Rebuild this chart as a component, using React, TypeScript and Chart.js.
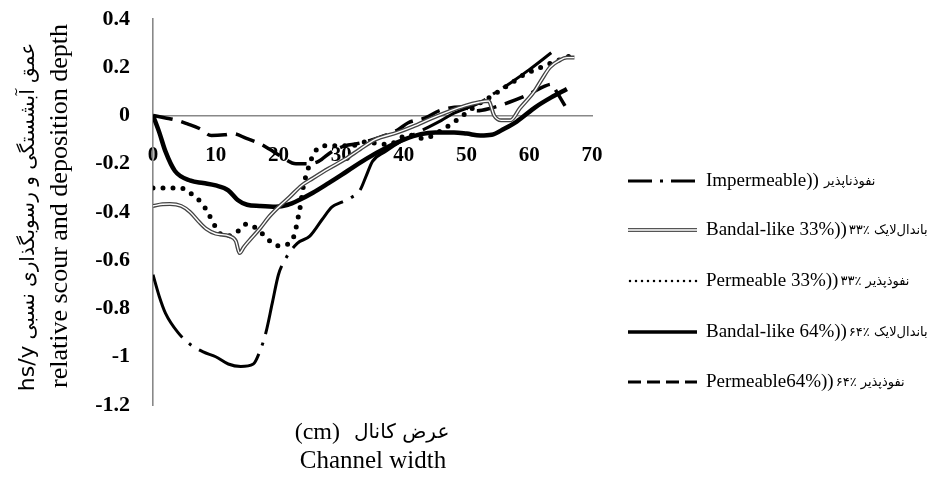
import React, { useEffect, useRef } from "react";
import { Chart, registerables } from "chart.js";
Chart.register(...registerables);

// ---- axis ticks ----
const xTicks = [0, 10, 20, 30, 40, 50, 60, 70];
const yTicks = [0.4, 0.2, 0, -0.2, -0.4, -0.6, -0.8, -1, -1.2];

// ---- series: Impermeable ----
const impX = [0, 1, 2, 4, 6, 8, 10, 12, 14, 16, 17, 18, 19, 20, 21, 23, 25, 27, 28.5, 30, 31.6, 33, 34, 35, 37, 40, 43, 46, 48, 50, 52.2, 54, 57, 60, 63.5];
const impY = [-0.66, -0.75, -0.82, -0.9, -0.95, -0.98, -1.0, -1.03, -1.04, -1.03, -0.98, -0.9, -0.78, -0.66, -0.6, -0.53, -0.5, -0.43, -0.38, -0.36, -0.34, -0.31, -0.25, -0.19, -0.15, -0.1, -0.06, -0.02, 0.01, 0.03, 0.054, 0.085, 0.135, 0.19, 0.26];

// ---- series: Bandal-like 33% ----
const b33X = [0, 1.5, 2.7, 4.5, 5.9, 7.3, 8.5, 10, 12.2, 13.2, 13.8, 14.5, 15.3, 17, 18.5, 20, 21.7, 23.7, 25.5, 28, 30.7, 33, 35.4, 39, 41.5, 44.3, 47, 49.7, 52, 53.5, 54.4, 55.5, 57, 58.5, 60.8, 62, 63.3, 64.9, 66, 67.2];
const b33Y = [-0.375, -0.368, -0.367, -0.375, -0.4, -0.44, -0.47, -0.49, -0.5, -0.52, -0.57, -0.545, -0.52, -0.47, -0.42, -0.38, -0.34, -0.29, -0.26, -0.22, -0.18, -0.14, -0.1, -0.07, -0.045, -0.013, 0.015, 0.04, 0.055, 0.06, 0.0, -0.02, -0.02, 0.03, 0.1, 0.15, 0.2, 0.23, 0.24, 0.24];

// ---- series: Permeable 33% ----
const p33X = [0, 1.9, 3.8, 5.5, 6.3, 7.7, 8.7, 9.7, 10.7, 11.5, 13.1, 14.9, 16.6, 18.2, 19.8, 21.7, 22.6, 23, 23.4, 24, 24.4, 25.6, 27.2, 29, 31.2, 32.8, 33.8, 37.5, 40.7, 43, 46.7, 49.8, 52, 54, 55.7, 57.5, 59.2, 61, 62.8, 64.7, 66.3];
const p33Y = [-0.3, -0.3, -0.3, -0.31, -0.33, -0.36, -0.4, -0.45, -0.49, -0.5, -0.49, -0.45, -0.47, -0.51, -0.54, -0.53, -0.49, -0.44, -0.39, -0.29, -0.25, -0.16, -0.125, -0.125, -0.125, -0.12, -0.11, -0.12, -0.08, -0.095, -0.05, 0.008, 0.05, 0.08, 0.11, 0.14, 0.17, 0.19, 0.21, 0.23, 0.245];

// ---- series: Bandal-like 64% ----
const b64X = [0, 1, 2, 3.5, 6, 8, 10, 12, 13.5, 15, 17, 19.6, 21.5, 23.3, 25.5, 28, 31, 34, 37.5, 40, 42.7, 45, 48, 50, 52.2, 54, 56, 58, 61, 63.5, 66];
const b64Y = [0, -0.07, -0.15, -0.23, -0.27, -0.28, -0.29, -0.31, -0.35, -0.37, -0.375, -0.378, -0.37, -0.35, -0.32, -0.28, -0.23, -0.18, -0.13, -0.1, -0.077, -0.07, -0.07, -0.075, -0.083, -0.08, -0.055, -0.025, 0.035, 0.075, 0.11];

// ---- series: Permeable 64% ----
const p64X = [0, 2, 3.8, 5.5, 7.4, 9.3, 11.4, 12.7, 14.9, 17, 18.6, 20.2, 22.8, 24.8, 26.4, 28.5, 30.7, 32.5, 35, 39, 40.7, 43.4, 45.7, 49, 51.7, 53.8, 56.8, 59.7, 62.3, 63.6, 64.2, 65.7];
const p64Y = [0, -0.01, -0.02, -0.035, -0.054, -0.083, -0.08, -0.075, -0.095, -0.116, -0.14, -0.166, -0.2, -0.2, -0.19, -0.15, -0.125, -0.117, -0.1, -0.06, -0.03, -0.01, 0.02, 0.035, 0.02, 0.03, 0.055, 0.085, 0.12, 0.13, 0.105, 0.04];

// ---- legend texts ----
const legendEnglish = ["Impermeable))", "Bandal-like 33%))", "Permeable 33%))", "Bandal-like 64%))", "Permeable64%))"];
const legendPersian = ["نفوذناپذیر", "باندال‌لایک ٪۳۳", "نفوذپذیر ٪۳۳", "باندال‌لایک ٪۶۴", "نفوذپذیر ٪۶۴"];
const yTitleLine1Latin = "hs/y";
const yTitleLine1Persian = "عمق آبشستگی و رسوبگذاری نسبی";
const yTitleLine2 = "relative scour and deposition depth";
const xTitleLine1Latin = "(cm)";
const xTitleLine1Persian = "عرض کانال";
const xTitleLine2 = "Channel width";

const pts = (xs: number[], ys: number[]) => xs.map((x, i) => ({ x, y: ys[i] }));

const SERIF = "'Liberation Serif', 'Times New Roman', serif";
const ARABIC = "'DejaVu Sans', sans-serif";

const overlayPlugin = {
  id: "overlay",
  afterDraw(chart: any) {
    const ctx: CanvasRenderingContext2D = chart.ctx;
    ctx.save();
    ctx.fillStyle = "#000";

    // ---------- legend ----------
    const rowsY = [181, 230, 281, 332, 382];
    const x0 = 628, x1 = 697, tx = 706;
    rowsY.forEach((y, i) => {
      ctx.save();
      ctx.strokeStyle = "#000";
      ctx.lineCap = "butt";
      if (i === 0) {
        ctx.lineWidth = 3;
        ctx.setLineDash([24, 8, 3, 8]);
      } else if (i === 1) {
        ctx.lineWidth = 4;
        ctx.strokeStyle = "#555";
        ctx.setLineDash([]);
      } else if (i === 2) {
        ctx.lineWidth = 2.5;
        ctx.lineCap = "round";
        ctx.setLineDash([0, 6]);
      } else if (i === 3) {
        ctx.lineWidth = 3.5;
        ctx.setLineDash([]);
      } else {
        ctx.lineWidth = 3;
        ctx.setLineDash([13, 6]);
      }
      ctx.beginPath();
      ctx.moveTo(i === 2 ? x0 + 2 : x0, y);
      ctx.lineTo(x1, y);
      ctx.stroke();
      if (i === 1) {
        ctx.strokeStyle = "#fff";
        ctx.lineWidth = 1.6;
        ctx.beginPath();
        ctx.moveTo(x0, y);
        ctx.lineTo(x1, y);
        ctx.stroke();
      }
      ctx.restore();

      ctx.font = `19px ${SERIF}`;
      ctx.textBaseline = "middle";
      ctx.textAlign = "left";
      ctx.direction = "ltr";
      ctx.fillText(legendEnglish[i], tx, y);
      const w = ctx.measureText(legendEnglish[i]).width;
      ctx.font = `13px ${ARABIC}`;
      ctx.direction = "rtl";
      ctx.textAlign = "left";
      ctx.fillText(legendPersian[i], tx + w + (i === 0 ? 5 : 2), y + 1);
      ctx.direction = "ltr";
    });

    // ---------- y title ----------
    ctx.save();
    ctx.translate(34, 217);
    ctx.rotate(-Math.PI / 2);
    ctx.textBaseline = "alphabetic";
    ctx.textAlign = "left";
    ctx.font = `22px ${ARABIC}`;
    const wl = ctx.measureText(yTitleLine1Latin).width;
    ctx.font = `20px ${ARABIC}`;
    const wp = ctx.measureText(yTitleLine1Persian).width;
    const gap = 6;
    const start = -(wl + gap + wp) / 2;
    ctx.font = `22px ${ARABIC}`;
    ctx.direction = "ltr";
    ctx.fillText(yTitleLine1Latin, start, 0);
    ctx.font = `20px ${ARABIC}`;
    ctx.direction = "rtl";
    ctx.fillText(yTitleLine1Persian, start + wl + gap, 0);
    ctx.restore();

    ctx.save();
    ctx.translate(67, 206);
    ctx.rotate(-Math.PI / 2);
    ctx.textBaseline = "alphabetic";
    ctx.textAlign = "center";
    ctx.font = `26px ${SERIF}`;
    ctx.fillText(yTitleLine2, 0, 0);
    ctx.restore();

    // ---------- x title ----------
    ctx.save();
    ctx.textBaseline = "middle";
    ctx.textAlign = "left";
    ctx.font = `24px ${SERIF}`;
    const wc = ctx.measureText(xTitleLine1Latin).width;
    ctx.font = `20px ${ARABIC}`;
    const wa = ctx.measureText(xTitleLine1Persian).width;
    const g2 = 14;
    const sx = 372 - (wc + g2 + wa) / 2;
    ctx.font = `24px ${SERIF}`;
    ctx.direction = "ltr";
    ctx.fillText(xTitleLine1Latin, sx, 433);
    ctx.font = `20px ${ARABIC}`;
    ctx.direction = "rtl";
    ctx.fillText(xTitleLine1Persian, sx + wc + g2, 433);
    ctx.direction = "ltr";
    ctx.textAlign = "center";
    ctx.font = `25px ${SERIF}`;
    ctx.fillText(xTitleLine2, 373, 461);
    ctx.restore();

    ctx.restore();
  },
};

export default function App() {
  const ref = useRef<HTMLCanvasElement | null>(null);

  useEffect(() => {
    if (!ref.current) return;
    const common = { pointRadius: 0, cubicInterpolationMode: "monotone" as const, fill: false };
    const chart = new Chart(ref.current, {
      type: "line",
      data: {
        datasets: [
          { ...common, label: "Impermeable", data: pts(impX, impY), borderColor: "#000", borderWidth: 3, borderDash: [70, 9, 3, 9], order: 3 },
          { ...common, label: "Bandal-like 33% inner", data: pts(b33X, b33Y), borderColor: "#fff", borderWidth: 1.4, order: 0 },
          { ...common, label: "Bandal-like 33%", data: pts(b33X, b33Y), borderColor: "#444", borderWidth: 4, order: 1 },
          { ...common, label: "Permeable 33%", data: pts(p33X, p33Y), borderColor: "#000", borderWidth: 5, borderDash: [0, 10], borderCapStyle: "round", order: 2 },
          { ...common, label: "Bandal-like 64%", data: pts(b64X, b64Y), borderColor: "#000", borderWidth: 4.5, order: 4 },
          { ...common, label: "Permeable64%", data: pts(p64X, p64Y), borderColor: "#000", borderWidth: 3.5, borderDash: [20, 9], order: 5 },
        ],
      },
      options: {
        animation: false,
        responsive: false,
        events: [],
        layout: { padding: { left: 0, top: 19, right: 341, bottom: 72 } },
        plugins: { legend: { display: false }, tooltip: { enabled: false } },
        scales: {
          x: {
            type: "linear",
            min: 0,
            max: 70,
            position: { y: 0 } as any,
            afterBuildTicks: (s: any) => {
              s.ticks = xTicks.map((v) => ({ value: v }));
            },
            grid: { display: true, drawOnChartArea: false, drawTicks: false },
            border: { display: true, color: "#888", width: 1.6 },
            ticks: {
              padding: 27,
              color: "#000",
              maxRotation: 0,
              autoSkip: false,
              font: { family: SERIF, size: 21, weight: "bold" },
              callback: (v: any) => String(v),
            },
          },
          y: {
            type: "linear",
            min: -1.2,
            max: 0.4,
            afterBuildTicks: (s: any) => {
              s.ticks = yTicks.map((v) => ({ value: v }));
            },
            afterFit: (s: any) => {
              s.width = 153;
              s.paddingTop = 12;
              s.paddingBottom = 12;
            },
            grid: { display: true, drawOnChartArea: false, drawTicks: false },
            border: { display: true, color: "#888", width: 1.6 },
            ticks: {
              padding: 23,
              color: "#000",
              autoSkip: false,
              font: { family: SERIF, size: 22, weight: "bold" },
              callback: (v: any) => String(Math.round(Number(v) * 10) / 10),
            },
          },
        },
      },
      plugins: [overlayPlugin],
    });
    return () => chart.destroy();
  }, []);

  return (
    <div style={{ position: "fixed", left: 0, top: 0, width: 933, height: 477, background: "#fff" }}>
      <canvas ref={ref} width={933} height={477} style={{ display: "block", width: 933, height: 477 }} />
    </div>
  );
}
